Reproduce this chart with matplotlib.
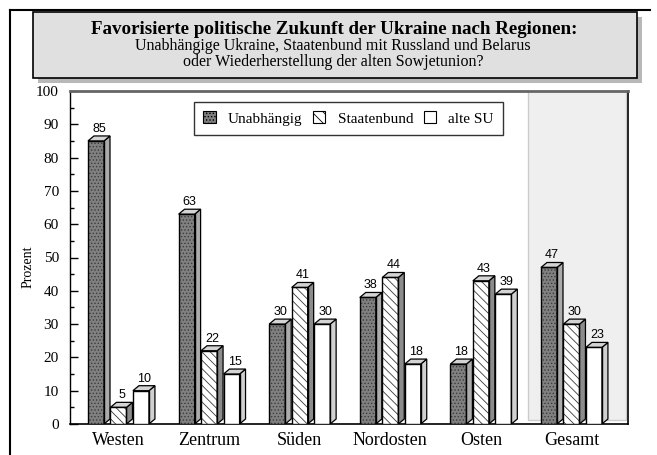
import matplotlib
matplotlib.use('Agg')
import matplotlib.pyplot as plt
from matplotlib.patches import Rectangle, Polygon, Patch
from matplotlib.lines import Line2D

regions = ['Westen', 'Zentrum', 'Süden', 'Nordosten', 'Osten', 'Gesamt']
series = ['Unabhängig', 'Staatenbund', 'alte SU']
unabhaengig = [85, 63, 30, 38, 18, 47]
staatenbund = [5, 22, 41, 44, 43, 30]
alte_su = [10, 15, 30, 18, 39, 23]
yticks = [0, 10, 20, 30, 40, 50, 60, 70, 80, 90, 100]
title = 'Favorisierte politische Zukunft der Ukraine nach Regionen:'
subtitle1 = 'Unabhängige Ukraine, Staatenbund mit Russland und Belarus'
subtitle2 = 'oder Wiederherstellung der alten Sowjetunion?'
ylabel = 'Prozent'

plt.rcParams['font.family'] = ['Liberation Serif', 'DejaVu Serif']
plt.rcParams['hatch.linewidth'] = 0.6

W, H = 657, 455
fig = plt.figure(figsize=(W / 100, H / 100), dpi=100)


def fx(x):
    return x / W


def fy(y):
    return 1 - y / H


# outer frame (top and left)
fig.add_artist(Line2D([fx(10), fx(10)], [0, fy(10)], color='black', lw=1.5))
fig.add_artist(Line2D([fx(10), fx(650)], [fy(10), fy(10)], color='black', lw=1.5))

# title box with shadow
bx0, by0, bx1, by1 = 33, 12, 637, 78
fig.add_artist(Rectangle((fx(bx0 + 5), fy(by1 + 5)), fx(bx1 - bx0), (by1 - by0) / H,
                         facecolor='#b8b8b8', edgecolor='none'))
fig.add_artist(Rectangle((fx(bx0), fy(by1)), fx(bx1 - bx0), (by1 - by0) / H,
                         facecolor='#e0e0e0', edgecolor='black', lw=1.2))
fig.text(fx(334), fy(30), title, ha='center', va='center', fontsize=13.7, fontweight='bold')
fig.text(fx(333), fy(46.5), subtitle1, ha='center', va='center', fontsize=11.5)
fig.text(fx(333), fy(62.5), subtitle2, ha='center', va='center', fontsize=11.5)

ax = fig.add_axes([fx(70), 31 / H, 558 / W, 333 / H])
ax.set_xlim(-0.535, 5.624)
ax.set_ylim(0, 100)

ax.axvspan(4.52, 5.60, ymin=0.012, ymax=1, facecolor='#efefef', edgecolor='#cccccc', lw=1, zorder=0.5)

w = 0.177
offs = [-0.248, 0.0, 0.248]
dx, dy = 0.066, 1.5
styles = [
    dict(face='#808080', hatch='.....', hcol='#3c3c3c', side='#ababab', top='#d4d4d4'),
    dict(face='white', hatch='\\\\\\\\', hcol='#3a3a3a', side='#8c8c8c', top='#d4d4d4'),
    dict(face='white', hatch=None, hcol='black', side='#d0d0d0', top='#d4d4d4'),
]
data = [unabhaengig, staatenbund, alte_su]

for j, vals in enumerate(data):
    st = styles[j]
    xs = [i + offs[j] for i in range(len(regions))]
    ax.bar(xs, vals, width=w, facecolor=st['face'], hatch=st['hatch'],
           edgecolor=st['hcol'], lw=0, zorder=3)
    ax.bar(xs, vals, width=w, fill=False, edgecolor='black', lw=1, zorder=4)
    for x, v in zip(xs, vals):
        r = x + w / 2
        l = x - w / 2
        ax.add_patch(Polygon([(r, 0), (r + dx, dy), (r + dx, v + dy), (r, v)],
                             closed=True, facecolor=st['side'], edgecolor='black', lw=0.9, zorder=3))
        ax.add_patch(Polygon([(l, v), (l + dx, v + dy), (r + dx, v + dy), (r, v)],
                             closed=True, facecolor=st['top'], edgecolor='black', lw=0.9, zorder=3))
        ax.text(x + dx / 2, v + dy + 0.3, str(v), ha='center', va='bottom',
                fontsize=9, family=['Liberation Sans', 'DejaVu Sans'], zorder=5)

ax.set_xticks(range(len(regions)))
ax.set_xticklabels(regions, fontsize=13)
ax.tick_params(axis='x', length=0, pad=6)
ax.set_yticks(yticks)
ax.set_yticks(range(5, 100, 10), minor=True)
ax.tick_params(axis='y', which='major', direction='in', length=6, width=1, labelsize=11, pad=8)
ax.tick_params(axis='y', which='minor', direction='in', length=3, width=1)

ax.spines['top'].set_color('#666666')
ax.spines['top'].set_linewidth(2)
ax.spines['right'].set_color('black')
ax.spines['right'].set_linewidth(1.2)
ax.spines['left'].set_linewidth(1)
ax.spines['bottom'].set_linewidth(1.2)

fig.text(fx(28), fy(267), ylabel, rotation=90, ha='center', va='center', fontsize=10)

handles = [
    Patch(facecolor=styles[0]['face'], hatch=styles[0]['hatch'], edgecolor='black', lw=0.8),
    Patch(facecolor='white', hatch='\\\\\\', edgecolor='black', lw=0.8),
    Patch(facecolor='white', edgecolor='black', lw=0.8),
]
leg = ax.legend(handles, series, ncol=3, loc='center',
                bbox_to_anchor=(fx(348.5), fy(118.5)), bbox_transform=fig.transFigure,
                fontsize=11, frameon=True, fancybox=False, shadow=False,
                handlelength=0.8, handleheight=0.8, handletextpad=0.8, columnspacing=0.7,
                borderpad=0.6)
leg.get_frame().set_edgecolor('black')
leg.get_frame().set_linewidth(1)
leg.set_zorder(10)

fig.savefig('out.png', dpi=100)
